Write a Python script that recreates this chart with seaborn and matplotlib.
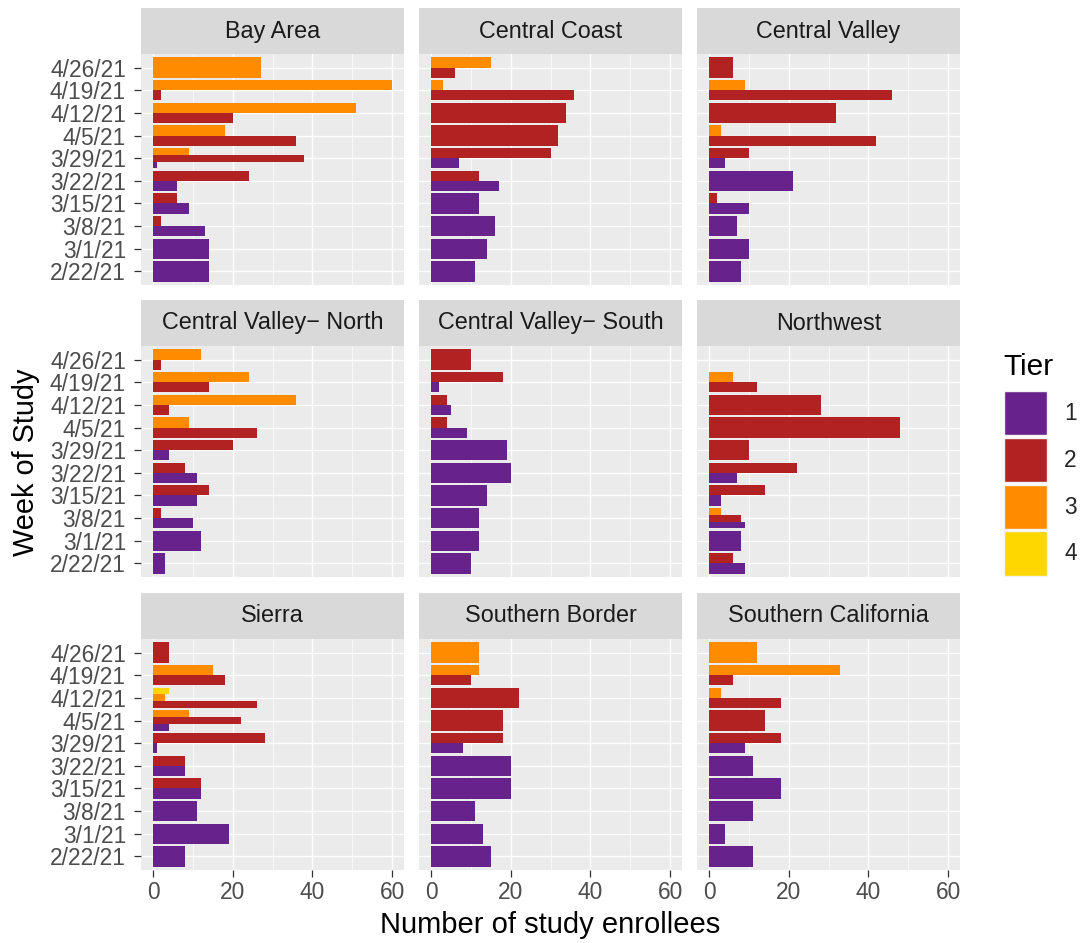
import numpy as np
import pandas as pd
import seaborn as sns
import matplotlib.pyplot as plt
from matplotlib.patches import Patch, Rectangle
from matplotlib.ticker import FixedLocator

# weeks, oldest first (bottom of each panel)
weeks = ["2/22/21", "3/1/21", "3/8/21", "3/15/21", "3/22/21",
         "3/29/21", "4/5/21", "4/12/21", "4/19/21", "4/26/21"]
regions = ["Bay Area", "Central Coast", "Central Valley",
           "Central Valley\u2212 North", "Central Valley\u2212 South", "Northwest",
           "Sierra", "Southern Border", "Southern California"]
tiers = [1, 2, 3, 4]
tier_colors = ["#68228B", "#B22222", "#FF8C00", "#FFD700"]

# enrollees per week for each tier (0 = tier not present that week)
bay_area = {1: [14, 14, 13, 9, 6, 1, 0, 0, 0, 0],
            2: [0, 0, 2, 6, 24, 38, 36, 20, 2, 0],
            3: [0, 0, 0, 0, 0, 9, 18, 51, 60, 27]}
central_coast = {1: [11, 14, 16, 12, 17, 7, 0, 0, 0, 0],
                 2: [0, 0, 0, 0, 12, 30, 32, 34, 36, 6],
                 3: [0, 0, 0, 0, 0, 0, 0, 0, 3, 15]}
central_valley = {1: [8, 10, 7, 10, 21, 4, 0, 0, 0, 0],
                  2: [0, 0, 0, 2, 0, 10, 42, 32, 46, 6],
                  3: [0, 0, 0, 0, 0, 0, 3, 0, 9, 0]}
cv_north = {1: [3, 12, 10, 11, 11, 4, 0, 0, 0, 0],
            2: [0, 0, 2, 14, 8, 20, 26, 4, 14, 2],
            3: [0, 0, 0, 0, 0, 0, 9, 36, 24, 12]}
cv_south = {1: [10, 12, 12, 14, 20, 19, 9, 5, 2, 0],
            2: [0, 0, 0, 0, 0, 0, 4, 4, 18, 10]}
northwest = {1: [9, 8, 9, 3, 7, 0, 0, 0, 0, 0],
             2: [6, 0, 8, 14, 22, 10, 48, 28, 12, 0],
             3: [0, 0, 3, 0, 0, 0, 0, 0, 6, 0]}
sierra = {1: [8, 19, 11, 12, 8, 1, 4, 0, 0, 0],
          2: [0, 0, 0, 12, 8, 28, 22, 26, 18, 4],
          3: [0, 0, 0, 0, 0, 0, 9, 3, 15, 0],
          4: [0, 0, 0, 0, 0, 0, 0, 4, 0, 0]}
southern_border = {1: [15, 13, 11, 20, 20, 8, 0, 0, 0, 0],
                   2: [0, 0, 0, 0, 0, 18, 18, 22, 10, 0],
                   3: [0, 0, 0, 0, 0, 0, 0, 0, 12, 12]}
southern_ca = {1: [11, 4, 11, 18, 11, 9, 0, 0, 0, 0],
               2: [0, 0, 0, 0, 0, 18, 14, 18, 6, 0],
               3: [0, 0, 0, 0, 0, 0, 0, 3, 33, 12]}
region_counts = [bay_area, central_coast, central_valley, cv_north, cv_south,
                 northwest, sierra, southern_border, southern_ca]

rows = []
for region, counts in zip(regions, region_counts):
    for tier, vals in counts.items():
        for week, n in zip(weeks, vals):
            if n > 0:
                rows.append((region, week, tier, n))
df = pd.DataFrame(rows, columns=["region", "week", "tier", "n"])
df["week_idx"] = df["week"].map({w: i for i, w in enumerate(weeks)})
df = df.sort_values(["region", "week_idx", "tier"]).reset_index(drop=True)

# dodge only the tiers present in a week (like ggplot position_dodge)
grp = df.groupby(["region", "week"])
df["n_tiers"] = grp["tier"].transform("count")
df["slot"] = grp.cumcount()
df["bar_h"] = 0.9 / df["n_tiers"]
df["ypos"] = df["week_idx"] - 0.45 + (df["slot"] + 0.5) * df["bar_h"]

palette = dict(zip(tiers, tier_colors))

sns.set_theme(style="darkgrid", rc={"axes.facecolor": "#EBEBEB",
                                    "grid.color": "white",
                                    "axes.axisbelow": True})
plt.rcParams["font.family"] = ["Liberation Sans", "DejaVu Sans"]

W, H = 1082, 943
g = sns.FacetGrid(df, col="region", col_wrap=3, col_order=regions,
                  sharex=True, sharey=True, height=3, aspect=1)


def draw_bars(data, **kws):
    ax = plt.gca()
    ax.barh(data["ypos"], data["n"], height=data["bar_h"],
            color=data["tier"].map(palette), linewidth=0)


g.map_dataframe(draw_bars)
g.figure.set_size_inches(W / 100, H / 100)
g.set_titles("")
g.set_axis_labels("", "")

lefts = [141, 419, 697]
tops = [54, 346, 639]
pw, ph = 263, 231
strip_h = 46

for i, (ax, name) in enumerate(zip(g.axes.flat, regions)):
    r, c = divmod(i, 3)
    ax.set_position([lefts[c] / W, 1 - (tops[r] + ph) / H, pw / W, ph / H])
    ax.set_xlim(-3, 63)
    ax.set_ylim(-0.6, 9.6)
    ax.xaxis.set_major_locator(FixedLocator([0, 20, 40, 60]))
    ax.xaxis.set_minor_locator(FixedLocator([10, 30, 50]))
    ax.set_yticks(range(len(weeks)))
    ax.grid(True, which="major", color="white", linewidth=1.0)
    ax.xaxis.grid(True, which="minor", color="white", linewidth=0.5)
    ax.yaxis.grid(True, which="major", color="white", linewidth=1.0)
    for s in ax.spines.values():
        s.set_visible(False)
    ax.tick_params(axis="both", which="major", length=4.8, width=0.9,
                   color="#333333", labelcolor="#4D4D4D", labelsize=16.4)
    ax.tick_params(axis="y", which="major", pad=6)
    ax.tick_params(axis="x", which="major", pad=3)
    ax.tick_params(axis="both", which="minor", length=0)
    if c == 0:
        ax.set_yticklabels(weeks)
        ax.tick_params(axis="y", left=True, labelleft=True)
    else:
        ax.tick_params(axis="y", left=False, labelleft=False)
    if r == 2:
        ax.set_xticklabels(["0", "20", "40", "60"])
        ax.tick_params(axis="x", bottom=True, labelbottom=True)
    else:
        ax.tick_params(axis="x", bottom=False, labelbottom=False)
    # ggplot-like strip
    sh = strip_h / ph
    ax.add_patch(Rectangle((0, 1), 1, sh, transform=ax.transAxes,
                           clip_on=False, facecolor="#D9D9D9", linewidth=0))
    ax.text(0.5, 1 + sh / 2, name, transform=ax.transAxes, ha="center",
            va="center", fontsize=16.8, color="#1A1A1A")

fig = g.figure
fig.text(550 / W, 1 - 925 / H, "Number of study enrollees", ha="center",
         va="center", fontsize=21, color="black")
fig.text(26 / W, 1 - 462 / H, "Week of Study", ha="center", va="center",
         rotation=90, fontsize=20.8, color="black")

# legend: title placed separately to get ggplot's spacing
fig.text(1003 / W, 1 - 375 / H, "Tier", ha="left", va="baseline",
         fontsize=21.5, color="black")
handles = [Patch(facecolor=palette[t], edgecolor="#F2F2F2", linewidth=1.0) for t in tiers]
leg = fig.legend(handles, [str(t) for t in tiers],
                 loc="upper left", bbox_to_anchor=(1004 / W, 1 - 391 / H),
                 frameon=False, fontsize=16.4,
                 handlelength=1.9, handleheight=2.6, labelspacing=0.12,
                 handletextpad=0.75, borderpad=0, borderaxespad=0)

fig.savefig("out.png", dpi=100)
